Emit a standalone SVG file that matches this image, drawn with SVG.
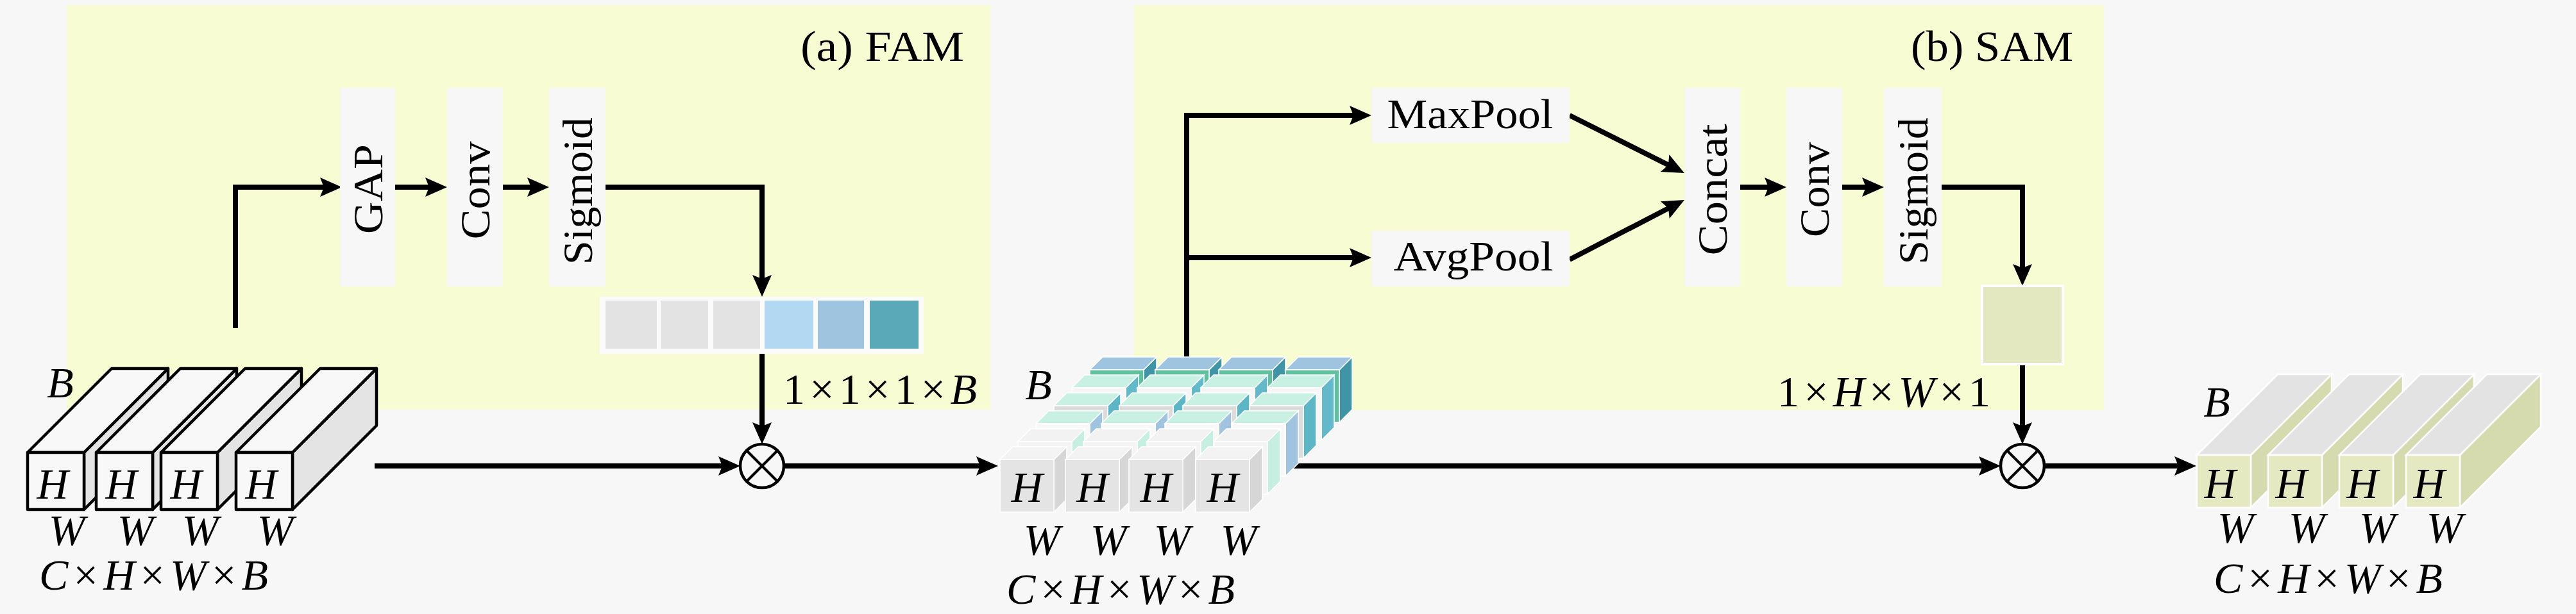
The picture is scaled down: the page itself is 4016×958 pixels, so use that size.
<svg xmlns="http://www.w3.org/2000/svg" xmlns:xlink="http://www.w3.org/1999/xlink" width="4016" height="958" viewBox="0 0 4016 958">
<style>
text{font-family:"Liberation Serif","Times New Roman",serif;fill:#000}
.lbl{font-size:66px}
.title{font-size:68px}
.m{font-size:68px}
.i{font-style:italic}
.box{fill:#f7f7f7}
.con{fill:none;stroke:#000;stroke-width:8;marker-end:url(#ah)}
.op circle{fill:#f7f7f7;stroke:#000;stroke-width:4.5}
.op line{stroke:#000;stroke-width:4}
.in use{stroke:#000;stroke-width:4.5;stroke-linejoin:round}
.in .f,.in .t{fill:#f8f8f8}
.in .r{fill:#e4e4e4}
.mid use{stroke:#ffffff;stroke-width:1.5}
.L0 .t{fill:#f3f3f3}.L0 .f{fill:#e4e4e4}.L0 .r{fill:#d6d6d6}
.L1 .t{fill:#f2f2f2}.L1 .f{fill:#f4f4f4}.L1 .r{fill:#c6efe1}
.L2 .t{fill:#c8f1e4}.L2 .f{fill:#f8f8f8}.L2 .r{fill:#a0c4e0}
.L3 .t{fill:#c8f1e4}.L3 .f{fill:#dcdcdc}.L3 .r{fill:#5cb6c6}
.L4 .t{fill:#c8f1e4}.L4 .f{fill:#f6f6f6}.L4 .r{fill:#63b9c9}
.L5 .t{fill:#9fc4df}.L5 .f{fill:#5fbf9f}.L5 .r{fill:#3f95a6}
.out use{stroke:#ffffff;stroke-width:2.5}
.out .f{fill:#e5e9c2}.out .t{fill:#e3e3e3}.out .r{fill:#d6daaf}
</style>
<defs>
<marker id="ah" markerUnits="userSpaceOnUse" orient="auto" markerWidth="60" markerHeight="60" viewBox="-30 -30 60 60" refX="0" refY="0" overflow="visible">
<path d="M20,0 L-14,-15 L-8,0 L-14,15 Z" fill="#000"/>
</marker>
<polygon id="iR" points="88,0 219,-131 219,-42 88,89"/>
<polygon id="iT" points="0,0 131,-131 219,-131 88,0"/>
<rect id="iF" width="88" height="89"/>
<polygon id="mR" points="84,0 104,-20 104,62 84,82"/>
<polygon id="mT" points="0,0 20,-20 104,-20 84,0"/>
<rect id="mF" width="84" height="82"/>
<polygon id="oR" points="84,0 210,-126 210,-44 84,82"/>
<polygon id="oT" points="0,0 126,-126 210,-126 84,0"/>
<rect id="oF" width="84" height="82"/>
</defs>

<rect width="4016" height="958" fill="#f7f7f7"/>
<g id="panel-fam"><rect x="104" y="8" width="1440" height="631" fill="#f8fcd2"/>
<text class="title" x="1248" y="95" textLength="255" lengthAdjust="spacingAndGlyphs">(a) FAM</text></g>
<g id="panel-sam"><rect x="1768" y="8" width="1512" height="632" fill="#f8fcd2"/>
<text class="title" x="2979" y="95" textLength="253" lengthAdjust="spacingAndGlyphs">(b) SAM</text></g>

<g id="connectors">
<path class="con" d="M367,512 V292 H513"/>
<path class="con" d="M616,292 H677"/>
<path class="con" d="M784,292 H836"/>
<path class="con" d="M944,292 H1188 V443"/>
<path class="con" d="M1188,544 V673"/>
<path class="con" d="M584,727 H1134"/>
<path class="con" d="M1222,727 H1536"/>
<path class="con" d="M1850,560 V180 H2118"/>
<path class="con" d="M1850,402 H2118"/>
<path class="con" d="M2447,180 L2608.1,261"/>
<path class="con" d="M2447,405 L2608.2,321.2"/>
<path class="con" d="M2713,292 H2765"/>
<path class="con" d="M2872,292 H2917"/>
<path class="con" d="M3027,292 H3153 V426"/>
<path class="con" d="M3153,568 V673"/>
<path class="con" d="M2010,727 H3099"/>
<path class="con" d="M3187,727 H3404"/>
</g>

<g id="fam-gap"><rect class="box" x="530" y="137" width="86" height="310"/>
<text class="lbl" transform="translate(596,295) rotate(-90)" text-anchor="middle" textLength="140" lengthAdjust="spacingAndGlyphs">GAP</text></g>
<g id="fam-conv"><rect class="box" x="697" y="137" width="87" height="310"/>
<text class="lbl" transform="translate(763,297) rotate(-90)" text-anchor="middle" textLength="153" lengthAdjust="spacingAndGlyphs">Conv</text></g>
<g id="fam-sigmoid"><rect class="box" x="856" y="137" width="88" height="310"/>
<text class="lbl" transform="translate(923,298) rotate(-90)" text-anchor="middle" textLength="230" lengthAdjust="spacingAndGlyphs">Sigmoid</text></g>

<g id="fam-weights">
<rect x="935" y="463" width="505" height="89" fill="#fbfbfb"/>
<rect x="944" y="469" width="80" height="75" fill="#e3e3e3"/>
<rect x="1030" y="469" width="74" height="75" fill="#e3e3e3"/>
<rect x="1112" y="469" width="73" height="75" fill="#e3e3e3"/>
<rect x="1192" y="469" width="76" height="75" fill="#b3d8f2"/>
<rect x="1275" y="469" width="72" height="75" fill="#9fc4e0"/>
<rect x="1356" y="469" width="76" height="75" fill="#5aa9b8"/>
<text class="m" x="1221" y="630" textLength="302" lengthAdjust="spacing">1×1×1×<tspan class="i">B</tspan></text>
</g>

<g id="input-block" class="in">
<g transform="translate(43,706)"><use href="#iR" class="r"/><use href="#iT" class="t"/><use href="#iF" class="f"/></g>
<g transform="translate(150,706)"><use href="#iR" class="r"/><use href="#iT" class="t"/><use href="#iF" class="f"/></g>
<g transform="translate(251,706)"><use href="#iR" class="r"/><use href="#iT" class="t"/><use href="#iF" class="f"/></g>
<g transform="translate(368,706)"><use href="#iR" class="r"/><use href="#iT" class="t"/><use href="#iF" class="f"/></g>
<text class="m i" x="94" y="620" text-anchor="middle">B</text>
<text class="m i" x="82" y="778" text-anchor="middle">H</text>
<text class="m i" x="189" y="778" text-anchor="middle">H</text>
<text class="m i" x="290" y="778" text-anchor="middle">H</text>
<text class="m i" x="407" y="778" text-anchor="middle">H</text>
<text class="m i" x="104" y="850" text-anchor="middle">W</text>
<text class="m i" x="211" y="850" text-anchor="middle">W</text>
<text class="m i" x="312" y="850" text-anchor="middle">W</text>
<text class="m i" x="429" y="850" text-anchor="middle">W</text>
<text class="m" x="61" y="920" textLength="357" lengthAdjust="spacing"><tspan class="i">C</tspan>×<tspan class="i">H</tspan>×<tspan class="i">W</tspan>×<tspan class="i">B</tspan></text>
</g>

<g id="op-fam" class="op">
<circle cx="1188" cy="727" r="34"/>
<line x1="1164" y1="703" x2="1212" y2="751"/><line x1="1212" y1="703" x2="1164" y2="751"/>
</g>

<g id="mid-block" class="mid">
<g class="L5">
<g transform="translate(1699,577)"><use href="#mR" class="r"/><use href="#mT" class="t"/><use href="#mF" class="f"/></g>
<g transform="translate(1801,577)"><use href="#mR" class="r"/><use href="#mT" class="t"/><use href="#mF" class="f"/></g>
<g transform="translate(1900,577)"><use href="#mR" class="r"/><use href="#mT" class="t"/><use href="#mF" class="f"/></g>
<g transform="translate(2004,577)"><use href="#mR" class="r"/><use href="#mT" class="t"/><use href="#mF" class="f"/></g>
</g>
<g class="L4">
<g transform="translate(1671,605)"><use href="#mR" class="r"/><use href="#mT" class="t"/><use href="#mF" class="f"/></g>
<g transform="translate(1773,605)"><use href="#mR" class="r"/><use href="#mT" class="t"/><use href="#mF" class="f"/></g>
<g transform="translate(1872,605)"><use href="#mR" class="r"/><use href="#mT" class="t"/><use href="#mF" class="f"/></g>
<g transform="translate(1976,605)"><use href="#mR" class="r"/><use href="#mT" class="t"/><use href="#mF" class="f"/></g>
</g>
<g class="L3">
<g transform="translate(1643,633)"><use href="#mR" class="r"/><use href="#mT" class="t"/><use href="#mF" class="f"/></g>
<g transform="translate(1745,633)"><use href="#mR" class="r"/><use href="#mT" class="t"/><use href="#mF" class="f"/></g>
<g transform="translate(1844,633)"><use href="#mR" class="r"/><use href="#mT" class="t"/><use href="#mF" class="f"/></g>
<g transform="translate(1948,633)"><use href="#mR" class="r"/><use href="#mT" class="t"/><use href="#mF" class="f"/></g>
</g>
<g class="L2">
<g transform="translate(1615,661)"><use href="#mR" class="r"/><use href="#mT" class="t"/><use href="#mF" class="f"/></g>
<g transform="translate(1717,661)"><use href="#mR" class="r"/><use href="#mT" class="t"/><use href="#mF" class="f"/></g>
<g transform="translate(1816,661)"><use href="#mR" class="r"/><use href="#mT" class="t"/><use href="#mF" class="f"/></g>
<g transform="translate(1920,661)"><use href="#mR" class="r"/><use href="#mT" class="t"/><use href="#mF" class="f"/></g>
</g>
<g class="L1">
<g transform="translate(1587,689)"><use href="#mR" class="r"/><use href="#mT" class="t"/><use href="#mF" class="f"/></g>
<g transform="translate(1689,689)"><use href="#mR" class="r"/><use href="#mT" class="t"/><use href="#mF" class="f"/></g>
<g transform="translate(1788,689)"><use href="#mR" class="r"/><use href="#mT" class="t"/><use href="#mF" class="f"/></g>
<g transform="translate(1892,689)"><use href="#mR" class="r"/><use href="#mT" class="t"/><use href="#mF" class="f"/></g>
</g>
<g class="L0">
<g transform="translate(1559,717)"><use href="#mR" class="r"/><use href="#mT" class="t"/><use href="#mF" class="f"/></g>
<g transform="translate(1661,717)"><use href="#mR" class="r"/><use href="#mT" class="t"/><use href="#mF" class="f"/></g>
<g transform="translate(1760,717)"><use href="#mR" class="r"/><use href="#mT" class="t"/><use href="#mF" class="f"/></g>
<g transform="translate(1864,717)"><use href="#mR" class="r"/><use href="#mT" class="t"/><use href="#mF" class="f"/></g>
</g>
<text class="m i" x="1619" y="623" text-anchor="middle">B</text>
<text class="m i" x="1601" y="783" text-anchor="middle">H</text>
<text class="m i" x="1703" y="783" text-anchor="middle">H</text>
<text class="m i" x="1802" y="783" text-anchor="middle">H</text>
<text class="m i" x="1906" y="783" text-anchor="middle">H</text>
<text class="m i" x="1624" y="865" text-anchor="middle">W</text>
<text class="m i" x="1728" y="865" text-anchor="middle">W</text>
<text class="m i" x="1827" y="865" text-anchor="middle">W</text>
<text class="m i" x="1931" y="865" text-anchor="middle">W</text>
<text class="m" x="1569" y="942" textLength="356" lengthAdjust="spacing"><tspan class="i">C</tspan>×<tspan class="i">H</tspan>×<tspan class="i">W</tspan>×<tspan class="i">B</tspan></text>
</g>

<g id="sam-maxpool"><rect class="box" x="2138" y="137" width="309" height="86"/>
<text class="lbl" x="2292" y="200" text-anchor="middle" textLength="259" lengthAdjust="spacingAndGlyphs">MaxPool</text></g>
<g id="sam-avgpool"><rect class="box" x="2138" y="360" width="309" height="87"/>
<text class="lbl" x="2297" y="422" text-anchor="middle" textLength="249" lengthAdjust="spacingAndGlyphs">AvgPool</text></g>
<g id="sam-concat"><rect class="box" x="2626" y="137" width="87" height="310"/>
<text class="lbl" transform="translate(2692,296) rotate(-90)" text-anchor="middle" textLength="205" lengthAdjust="spacingAndGlyphs">Concat</text></g>
<g id="sam-conv"><rect class="box" x="2785" y="137" width="87" height="310"/>
<text class="lbl" transform="translate(2851,296) rotate(-90)" text-anchor="middle" textLength="148" lengthAdjust="spacingAndGlyphs">Conv</text></g>
<g id="sam-sigmoid"><rect class="box" x="2937" y="137" width="90" height="310"/>
<text class="lbl" transform="translate(3005,298) rotate(-90)" text-anchor="middle" textLength="229" lengthAdjust="spacingAndGlyphs">Sigmoid</text></g>

<g id="sam-map">
<rect x="3090" y="446" width="126" height="122" fill="#e4e8c0" stroke="#ffffff" stroke-width="4"/>
<text class="m" x="2771" y="634" textLength="332" lengthAdjust="spacing">1×<tspan class="i">H</tspan>×<tspan class="i">W</tspan>×1</text>
</g>

<g id="op-sam" class="op">
<circle cx="3153" cy="727" r="34"/>
<line x1="3129" y1="703" x2="3177" y2="751"/><line x1="3177" y1="703" x2="3129" y2="751"/>
</g>

<g id="output-block" class="out">
<g transform="translate(3425,710)"><use href="#oR" class="r"/><use href="#oT" class="t"/><use href="#oF" class="f"/></g>
<g transform="translate(3536,710)"><use href="#oR" class="r"/><use href="#oT" class="t"/><use href="#oF" class="f"/></g>
<g transform="translate(3647,710)"><use href="#oR" class="r"/><use href="#oT" class="t"/><use href="#oF" class="f"/></g>
<g transform="translate(3751,710)"><use href="#oR" class="r"/><use href="#oT" class="t"/><use href="#oF" class="f"/></g>
<text class="m i" x="3456" y="650" text-anchor="middle">B</text>
<text class="m i" x="3461" y="777" text-anchor="middle">H</text>
<text class="m i" x="3572" y="777" text-anchor="middle">H</text>
<text class="m i" x="3683" y="777" text-anchor="middle">H</text>
<text class="m i" x="3787" y="777" text-anchor="middle">H</text>
<text class="m i" x="3485" y="846" text-anchor="middle">W</text>
<text class="m i" x="3596" y="846" text-anchor="middle">W</text>
<text class="m i" x="3706" y="846" text-anchor="middle">W</text>
<text class="m i" x="3811" y="846" text-anchor="middle">W</text>
<text class="m" x="3451" y="925" textLength="357" lengthAdjust="spacing"><tspan class="i">C</tspan>×<tspan class="i">H</tspan>×<tspan class="i">W</tspan>×<tspan class="i">B</tspan></text>
</g>
</svg>
